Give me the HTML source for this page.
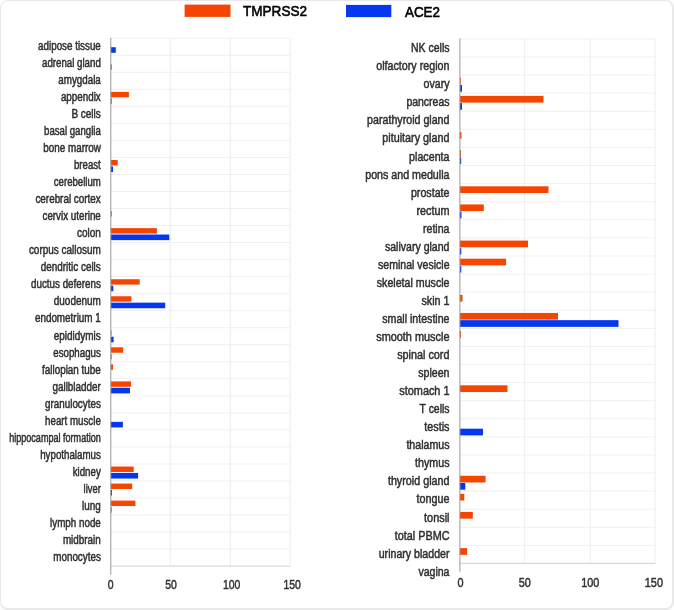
<!DOCTYPE html><html><head><meta charset="utf-8"><style>
html,body{margin:0;padding:0;background:#fff;}
body{width:674px;height:610px;overflow:hidden;position:relative;}
.box{position:absolute;left:0;top:0;width:671px;height:607px;border-style:solid;border-color:#e8e8e8;border-width:1px 2px 2px 1px;border-radius:8px;background:#fff;}
svg{position:absolute;left:0;top:0;filter:blur(0.4px);}
text{font-family:"Liberation Sans",sans-serif;}
</style></head><body><div class="box"></div>
<svg width="674" height="610" viewBox="0 0 674 610">
<rect x="110.80" y="37.70" width="180.00" height="1" fill="#f0f0f0"/>
<rect x="110.80" y="54.73" width="180.00" height="1" fill="#f0f0f0"/>
<rect x="110.80" y="71.76" width="180.00" height="1" fill="#f0f0f0"/>
<rect x="110.80" y="88.79" width="180.00" height="1" fill="#f0f0f0"/>
<rect x="110.80" y="105.82" width="180.00" height="1" fill="#f0f0f0"/>
<rect x="110.80" y="122.85" width="180.00" height="1" fill="#f0f0f0"/>
<rect x="110.80" y="139.88" width="180.00" height="1" fill="#f0f0f0"/>
<rect x="110.80" y="156.91" width="180.00" height="1" fill="#f0f0f0"/>
<rect x="110.80" y="173.94" width="180.00" height="1" fill="#f0f0f0"/>
<rect x="110.80" y="190.97" width="180.00" height="1" fill="#f0f0f0"/>
<rect x="110.80" y="208.00" width="180.00" height="1" fill="#f0f0f0"/>
<rect x="110.80" y="225.03" width="180.00" height="1" fill="#f0f0f0"/>
<rect x="110.80" y="242.06" width="180.00" height="1" fill="#f0f0f0"/>
<rect x="110.80" y="259.09" width="180.00" height="1" fill="#f0f0f0"/>
<rect x="110.80" y="276.12" width="180.00" height="1" fill="#f0f0f0"/>
<rect x="110.80" y="293.15" width="180.00" height="1" fill="#f0f0f0"/>
<rect x="110.80" y="310.18" width="180.00" height="1" fill="#f0f0f0"/>
<rect x="110.80" y="327.21" width="180.00" height="1" fill="#f0f0f0"/>
<rect x="110.80" y="344.24" width="180.00" height="1" fill="#f0f0f0"/>
<rect x="110.80" y="361.27" width="180.00" height="1" fill="#f0f0f0"/>
<rect x="110.80" y="378.30" width="180.00" height="1" fill="#f0f0f0"/>
<rect x="110.80" y="395.33" width="180.00" height="1" fill="#f0f0f0"/>
<rect x="110.80" y="412.36" width="180.00" height="1" fill="#f0f0f0"/>
<rect x="110.80" y="429.39" width="180.00" height="1" fill="#f0f0f0"/>
<rect x="110.80" y="446.42" width="180.00" height="1" fill="#f0f0f0"/>
<rect x="110.80" y="463.45" width="180.00" height="1" fill="#f0f0f0"/>
<rect x="110.80" y="480.48" width="180.00" height="1" fill="#f0f0f0"/>
<rect x="110.80" y="497.51" width="180.00" height="1" fill="#f0f0f0"/>
<rect x="110.80" y="514.54" width="180.00" height="1" fill="#f0f0f0"/>
<rect x="110.80" y="531.57" width="180.00" height="1" fill="#f0f0f0"/>
<rect x="110.80" y="548.60" width="180.00" height="1" fill="#f0f0f0"/>
<rect x="169.80" y="37.70" width="1.2" height="527.90" fill="#f0f0f0"/>
<rect x="229.80" y="37.70" width="1.2" height="527.90" fill="#f0f0f0"/>
<rect x="289.70" y="37.70" width="1.2" height="527.90" fill="#f0f0f0"/>
<rect x="110.80" y="565.60" width="180.00" height="1" fill="#cfcfcf"/>
<rect x="110.80" y="47.20" width="5.00" height="5.60" fill="#0537f0"/>
<rect x="110.80" y="64.23" width="0.80" height="5.60" fill="#0537f0"/>
<rect x="110.80" y="91.89" width="18.10" height="5.40" fill="#f64500"/>
<rect x="110.80" y="98.29" width="0.80" height="5.60" fill="#0537f0"/>
<rect x="110.80" y="160.01" width="6.90" height="5.40" fill="#f64500"/>
<rect x="110.80" y="166.41" width="2.20" height="5.60" fill="#0537f0"/>
<rect x="110.80" y="211.10" width="1.00" height="5.40" fill="#f64500"/>
<rect x="110.80" y="228.13" width="46.10" height="5.40" fill="#f64500"/>
<rect x="110.80" y="234.53" width="58.50" height="5.60" fill="#0537f0"/>
<rect x="110.80" y="279.22" width="28.90" height="5.40" fill="#f64500"/>
<rect x="110.80" y="285.62" width="2.50" height="5.60" fill="#0537f0"/>
<rect x="110.80" y="296.25" width="20.60" height="5.40" fill="#f64500"/>
<rect x="110.80" y="302.65" width="54.40" height="5.60" fill="#0537f0"/>
<rect x="110.80" y="330.31" width="0.70" height="5.40" fill="#f64500"/>
<rect x="110.80" y="336.71" width="2.80" height="5.60" fill="#0537f0"/>
<rect x="110.80" y="347.34" width="12.40" height="5.40" fill="#f64500"/>
<rect x="110.80" y="353.74" width="0.70" height="5.60" fill="#0537f0"/>
<rect x="110.80" y="364.37" width="2.20" height="5.40" fill="#f64500"/>
<rect x="110.80" y="381.40" width="20.20" height="5.40" fill="#f64500"/>
<rect x="110.80" y="387.80" width="19.20" height="5.60" fill="#0537f0"/>
<rect x="110.80" y="421.86" width="12.10" height="5.60" fill="#0537f0"/>
<rect x="110.80" y="466.55" width="22.90" height="5.40" fill="#f64500"/>
<rect x="110.80" y="472.95" width="27.30" height="5.60" fill="#0537f0"/>
<rect x="110.80" y="483.58" width="21.40" height="5.40" fill="#f64500"/>
<rect x="110.80" y="489.98" width="1.20" height="5.60" fill="#0537f0"/>
<rect x="110.80" y="500.61" width="24.60" height="5.40" fill="#f64500"/>
<rect x="110.80" y="507.01" width="0.70" height="5.60" fill="#0537f0"/>
<rect x="110.30" y="37.70" width="1" height="536.90" fill="#999"/>
<text x="100.80" y="50.00" font-size="12" fill="#303030" stroke="#303030" stroke-width="0.5" text-anchor="end" textLength="62.70" lengthAdjust="spacingAndGlyphs">adipose tissue</text>
<text x="100.80" y="67.03" font-size="12" fill="#303030" stroke="#303030" stroke-width="0.5" text-anchor="end" textLength="58.80" lengthAdjust="spacingAndGlyphs">adrenal gland</text>
<text x="100.80" y="84.06" font-size="12" fill="#303030" stroke="#303030" stroke-width="0.5" text-anchor="end" textLength="42.50" lengthAdjust="spacingAndGlyphs">amygdala</text>
<text x="100.80" y="101.09" font-size="12" fill="#303030" stroke="#303030" stroke-width="0.5" text-anchor="end" textLength="39.90" lengthAdjust="spacingAndGlyphs">appendix</text>
<text x="100.80" y="118.12" font-size="12" fill="#303030" stroke="#303030" stroke-width="0.5" text-anchor="end" textLength="29.40" lengthAdjust="spacingAndGlyphs">B cells</text>
<text x="100.80" y="135.15" font-size="12" fill="#303030" stroke="#303030" stroke-width="0.5" text-anchor="end" textLength="56.70" lengthAdjust="spacingAndGlyphs">basal ganglia</text>
<text x="100.80" y="152.18" font-size="12" fill="#303030" stroke="#303030" stroke-width="0.5" text-anchor="end" textLength="57.50" lengthAdjust="spacingAndGlyphs">bone marrow</text>
<text x="100.80" y="169.21" font-size="12" fill="#303030" stroke="#303030" stroke-width="0.5" text-anchor="end" textLength="26.80" lengthAdjust="spacingAndGlyphs">breast</text>
<text x="100.80" y="186.24" font-size="12" fill="#303030" stroke="#303030" stroke-width="0.5" text-anchor="end" textLength="47.00" lengthAdjust="spacingAndGlyphs">cerebellum</text>
<text x="100.80" y="203.27" font-size="12" fill="#303030" stroke="#303030" stroke-width="0.5" text-anchor="end" textLength="65.40" lengthAdjust="spacingAndGlyphs">cerebral cortex</text>
<text x="100.80" y="220.30" font-size="12" fill="#303030" stroke="#303030" stroke-width="0.5" text-anchor="end" textLength="58.30" lengthAdjust="spacingAndGlyphs">cervix uterine</text>
<text x="100.80" y="237.33" font-size="12" fill="#303030" stroke="#303030" stroke-width="0.5" text-anchor="end" textLength="23.90" lengthAdjust="spacingAndGlyphs">colon</text>
<text x="100.80" y="254.36" font-size="12" fill="#303030" stroke="#303030" stroke-width="0.5" text-anchor="end" textLength="71.90" lengthAdjust="spacingAndGlyphs">corpus callosum</text>
<text x="100.80" y="271.39" font-size="12" fill="#303030" stroke="#303030" stroke-width="0.5" text-anchor="end" textLength="60.10" lengthAdjust="spacingAndGlyphs">dendritic cells</text>
<text x="100.80" y="288.42" font-size="12" fill="#303030" stroke="#303030" stroke-width="0.5" text-anchor="end" textLength="69.80" lengthAdjust="spacingAndGlyphs">ductus deferens</text>
<text x="100.80" y="305.45" font-size="12" fill="#303030" stroke="#303030" stroke-width="0.5" text-anchor="end" textLength="47.00" lengthAdjust="spacingAndGlyphs">duodenum</text>
<text x="100.80" y="322.48" font-size="12" fill="#303030" stroke="#303030" stroke-width="0.5" text-anchor="end" textLength="65.90" lengthAdjust="spacingAndGlyphs">endometrium 1</text>
<text x="100.80" y="339.51" font-size="12" fill="#303030" stroke="#303030" stroke-width="0.5" text-anchor="end" textLength="47.00" lengthAdjust="spacingAndGlyphs">epididymis</text>
<text x="100.80" y="356.54" font-size="12" fill="#303030" stroke="#303030" stroke-width="0.5" text-anchor="end" textLength="47.50" lengthAdjust="spacingAndGlyphs">esophagus</text>
<text x="100.80" y="373.57" font-size="12" fill="#303030" stroke="#303030" stroke-width="0.5" text-anchor="end" textLength="58.80" lengthAdjust="spacingAndGlyphs">fallopian tube</text>
<text x="100.80" y="390.60" font-size="12" fill="#303030" stroke="#303030" stroke-width="0.5" text-anchor="end" textLength="48.30" lengthAdjust="spacingAndGlyphs">gallbladder</text>
<text x="100.80" y="407.63" font-size="12" fill="#303030" stroke="#303030" stroke-width="0.5" text-anchor="end" textLength="55.70" lengthAdjust="spacingAndGlyphs">granulocytes</text>
<text x="100.80" y="424.66" font-size="12" fill="#303030" stroke="#303030" stroke-width="0.5" text-anchor="end" textLength="55.70" lengthAdjust="spacingAndGlyphs">heart muscle</text>
<text x="100.80" y="441.69" font-size="12" fill="#303030" stroke="#303030" stroke-width="0.5" text-anchor="end" textLength="91.60" lengthAdjust="spacingAndGlyphs">hippocampal formation</text>
<text x="100.80" y="458.72" font-size="12" fill="#303030" stroke="#303030" stroke-width="0.5" text-anchor="end" textLength="60.60" lengthAdjust="spacingAndGlyphs">hypothalamus</text>
<text x="100.80" y="475.75" font-size="12" fill="#303030" stroke="#303030" stroke-width="0.5" text-anchor="end" textLength="28.10" lengthAdjust="spacingAndGlyphs">kidney</text>
<text x="100.80" y="492.78" font-size="12" fill="#303030" stroke="#303030" stroke-width="0.5" text-anchor="end" textLength="17.20" lengthAdjust="spacingAndGlyphs">liver</text>
<text x="100.80" y="509.81" font-size="12" fill="#303030" stroke="#303030" stroke-width="0.5" text-anchor="end" textLength="18.70" lengthAdjust="spacingAndGlyphs">lung</text>
<text x="100.80" y="526.84" font-size="12" fill="#303030" stroke="#303030" stroke-width="0.5" text-anchor="end" textLength="50.70" lengthAdjust="spacingAndGlyphs">lymph node</text>
<text x="100.80" y="543.87" font-size="12" fill="#303030" stroke="#303030" stroke-width="0.5" text-anchor="end" textLength="37.90" lengthAdjust="spacingAndGlyphs">midbrain</text>
<text x="100.80" y="560.90" font-size="12" fill="#303030" stroke="#303030" stroke-width="0.5" text-anchor="end" textLength="47.50" lengthAdjust="spacingAndGlyphs">monocytes</text>
<text x="110.70" y="589.10" font-size="12" fill="#303030" stroke="#303030" stroke-width="0.45" text-anchor="middle" textLength="5.80" lengthAdjust="spacingAndGlyphs">0</text>
<text x="171.00" y="589.10" font-size="12" fill="#303030" stroke="#303030" stroke-width="0.45" text-anchor="middle" textLength="11.61" lengthAdjust="spacingAndGlyphs">50</text>
<text x="231.70" y="589.10" font-size="12" fill="#303030" stroke="#303030" stroke-width="0.45" text-anchor="middle" textLength="17.41" lengthAdjust="spacingAndGlyphs">100</text>
<text x="292.10" y="589.10" font-size="12" fill="#303030" stroke="#303030" stroke-width="0.45" text-anchor="middle" textLength="17.41" lengthAdjust="spacingAndGlyphs">150</text>
<rect x="459.90" y="38.40" width="195.60" height="1" fill="#f0f0f0"/>
<rect x="459.90" y="56.49" width="195.60" height="1" fill="#f0f0f0"/>
<rect x="459.90" y="74.58" width="195.60" height="1" fill="#f0f0f0"/>
<rect x="459.90" y="92.67" width="195.60" height="1" fill="#f0f0f0"/>
<rect x="459.90" y="110.76" width="195.60" height="1" fill="#f0f0f0"/>
<rect x="459.90" y="128.85" width="195.60" height="1" fill="#f0f0f0"/>
<rect x="459.90" y="146.94" width="195.60" height="1" fill="#f0f0f0"/>
<rect x="459.90" y="165.03" width="195.60" height="1" fill="#f0f0f0"/>
<rect x="459.90" y="183.12" width="195.60" height="1" fill="#f0f0f0"/>
<rect x="459.90" y="201.21" width="195.60" height="1" fill="#f0f0f0"/>
<rect x="459.90" y="219.30" width="195.60" height="1" fill="#f0f0f0"/>
<rect x="459.90" y="237.39" width="195.60" height="1" fill="#f0f0f0"/>
<rect x="459.90" y="255.48" width="195.60" height="1" fill="#f0f0f0"/>
<rect x="459.90" y="273.57" width="195.60" height="1" fill="#f0f0f0"/>
<rect x="459.90" y="291.66" width="195.60" height="1" fill="#f0f0f0"/>
<rect x="459.90" y="309.75" width="195.60" height="1" fill="#f0f0f0"/>
<rect x="459.90" y="327.84" width="195.60" height="1" fill="#f0f0f0"/>
<rect x="459.90" y="345.93" width="195.60" height="1" fill="#f0f0f0"/>
<rect x="459.90" y="364.02" width="195.60" height="1" fill="#f0f0f0"/>
<rect x="459.90" y="382.11" width="195.60" height="1" fill="#f0f0f0"/>
<rect x="459.90" y="400.20" width="195.60" height="1" fill="#f0f0f0"/>
<rect x="459.90" y="418.29" width="195.60" height="1" fill="#f0f0f0"/>
<rect x="459.90" y="436.38" width="195.60" height="1" fill="#f0f0f0"/>
<rect x="459.90" y="454.47" width="195.60" height="1" fill="#f0f0f0"/>
<rect x="459.90" y="472.56" width="195.60" height="1" fill="#f0f0f0"/>
<rect x="459.90" y="490.65" width="195.60" height="1" fill="#f0f0f0"/>
<rect x="459.90" y="508.74" width="195.60" height="1" fill="#f0f0f0"/>
<rect x="459.90" y="526.83" width="195.60" height="1" fill="#f0f0f0"/>
<rect x="459.90" y="544.92" width="195.60" height="1" fill="#f0f0f0"/>
<rect x="523.90" y="38.40" width="1.2" height="524.40" fill="#f0f0f0"/>
<rect x="589.70" y="38.40" width="1.2" height="524.40" fill="#f0f0f0"/>
<rect x="654.40" y="38.40" width="1.2" height="524.40" fill="#f0f0f0"/>
<rect x="459.90" y="562.80" width="195.60" height="1" fill="#cfcfcf"/>
<rect x="459.90" y="77.78" width="0.90" height="6.70" fill="#f64500"/>
<rect x="459.90" y="84.98" width="2.10" height="6.70" fill="#0537f0"/>
<rect x="459.90" y="95.87" width="83.60" height="6.70" fill="#f64500"/>
<rect x="459.90" y="103.07" width="2.10" height="6.70" fill="#0537f0"/>
<rect x="459.90" y="132.05" width="1.60" height="6.70" fill="#f64500"/>
<rect x="459.90" y="150.14" width="1.10" height="6.70" fill="#f64500"/>
<rect x="459.90" y="157.34" width="1.30" height="6.70" fill="#0537f0"/>
<rect x="459.90" y="186.32" width="88.60" height="6.70" fill="#f64500"/>
<rect x="459.90" y="204.41" width="23.90" height="6.70" fill="#f64500"/>
<rect x="459.90" y="211.61" width="1.60" height="6.70" fill="#0537f0"/>
<rect x="459.90" y="240.59" width="68.10" height="6.70" fill="#f64500"/>
<rect x="459.90" y="247.79" width="1.40" height="6.70" fill="#0537f0"/>
<rect x="459.90" y="258.68" width="46.20" height="6.70" fill="#f64500"/>
<rect x="459.90" y="265.88" width="1.40" height="6.70" fill="#0537f0"/>
<rect x="459.90" y="294.86" width="2.60" height="6.70" fill="#f64500"/>
<rect x="459.90" y="312.95" width="98.10" height="6.70" fill="#f64500"/>
<rect x="459.90" y="320.15" width="158.60" height="6.70" fill="#0537f0"/>
<rect x="459.90" y="331.04" width="1.10" height="6.70" fill="#f64500"/>
<rect x="459.90" y="385.31" width="47.60" height="6.70" fill="#f64500"/>
<rect x="459.90" y="428.69" width="23.10" height="6.70" fill="#0537f0"/>
<rect x="459.90" y="475.76" width="25.70" height="6.70" fill="#f64500"/>
<rect x="459.90" y="482.96" width="5.40" height="6.70" fill="#0537f0"/>
<rect x="459.90" y="493.85" width="4.40" height="6.70" fill="#f64500"/>
<rect x="459.90" y="511.94" width="12.90" height="6.70" fill="#f64500"/>
<rect x="459.90" y="548.12" width="7.20" height="6.70" fill="#f64500"/>
<rect x="459.40" y="38.40" width="1" height="533.40" fill="#999"/>
<text x="449.50" y="52.20" font-size="12.5" fill="#303030" stroke="#303030" stroke-width="0.5" text-anchor="end" textLength="38.60" lengthAdjust="spacingAndGlyphs">NK cells</text>
<text x="449.50" y="70.25" font-size="12.5" fill="#303030" stroke="#303030" stroke-width="0.5" text-anchor="end" textLength="73.30" lengthAdjust="spacingAndGlyphs">olfactory region</text>
<text x="449.50" y="88.30" font-size="12.5" fill="#303030" stroke="#303030" stroke-width="0.5" text-anchor="end" textLength="26.00" lengthAdjust="spacingAndGlyphs">ovary</text>
<text x="449.50" y="106.35" font-size="12.5" fill="#303030" stroke="#303030" stroke-width="0.5" text-anchor="end" textLength="43.10" lengthAdjust="spacingAndGlyphs">pancreas</text>
<text x="449.50" y="124.40" font-size="12.5" fill="#303030" stroke="#303030" stroke-width="0.5" text-anchor="end" textLength="82.40" lengthAdjust="spacingAndGlyphs">parathyroid gland</text>
<text x="449.50" y="142.45" font-size="12.5" fill="#303030" stroke="#303030" stroke-width="0.5" text-anchor="end" textLength="67.20" lengthAdjust="spacingAndGlyphs">pituitary gland</text>
<text x="449.50" y="160.50" font-size="12.5" fill="#303030" stroke="#303030" stroke-width="0.5" text-anchor="end" textLength="40.40" lengthAdjust="spacingAndGlyphs">placenta</text>
<text x="449.50" y="178.55" font-size="12.5" fill="#303030" stroke="#303030" stroke-width="0.5" text-anchor="end" textLength="84.30" lengthAdjust="spacingAndGlyphs">pons and medulla</text>
<text x="449.50" y="196.60" font-size="12.5" fill="#303030" stroke="#303030" stroke-width="0.5" text-anchor="end" textLength="38.60" lengthAdjust="spacingAndGlyphs">prostate</text>
<text x="449.50" y="214.65" font-size="12.5" fill="#303030" stroke="#303030" stroke-width="0.5" text-anchor="end" textLength="33.10" lengthAdjust="spacingAndGlyphs">rectum</text>
<text x="449.50" y="232.70" font-size="12.5" fill="#303030" stroke="#303030" stroke-width="0.5" text-anchor="end" textLength="26.50" lengthAdjust="spacingAndGlyphs">retina</text>
<text x="449.50" y="250.75" font-size="12.5" fill="#303030" stroke="#303030" stroke-width="0.5" text-anchor="end" textLength="64.60" lengthAdjust="spacingAndGlyphs">salivary gland</text>
<text x="449.50" y="268.80" font-size="12.5" fill="#303030" stroke="#303030" stroke-width="0.5" text-anchor="end" textLength="71.40" lengthAdjust="spacingAndGlyphs">seminal vesicle</text>
<text x="449.50" y="286.85" font-size="12.5" fill="#303030" stroke="#303030" stroke-width="0.5" text-anchor="end" textLength="72.70" lengthAdjust="spacingAndGlyphs">skeletal muscle</text>
<text x="449.50" y="304.90" font-size="12.5" fill="#303030" stroke="#303030" stroke-width="0.5" text-anchor="end" textLength="28.10" lengthAdjust="spacingAndGlyphs">skin 1</text>
<text x="449.50" y="322.95" font-size="12.5" fill="#303030" stroke="#303030" stroke-width="0.5" text-anchor="end" textLength="67.20" lengthAdjust="spacingAndGlyphs">small intestine</text>
<text x="449.50" y="341.00" font-size="12.5" fill="#303030" stroke="#303030" stroke-width="0.5" text-anchor="end" textLength="73.30" lengthAdjust="spacingAndGlyphs">smooth muscle</text>
<text x="449.50" y="359.05" font-size="12.5" fill="#303030" stroke="#303030" stroke-width="0.5" text-anchor="end" textLength="52.30" lengthAdjust="spacingAndGlyphs">spinal cord</text>
<text x="449.50" y="377.10" font-size="12.5" fill="#303030" stroke="#303030" stroke-width="0.5" text-anchor="end" textLength="31.30" lengthAdjust="spacingAndGlyphs">spleen</text>
<text x="449.50" y="395.15" font-size="12.5" fill="#303030" stroke="#303030" stroke-width="0.5" text-anchor="end" textLength="50.20" lengthAdjust="spacingAndGlyphs">stomach 1</text>
<text x="449.50" y="413.20" font-size="12.5" fill="#303030" stroke="#303030" stroke-width="0.5" text-anchor="end" textLength="29.90" lengthAdjust="spacingAndGlyphs">T cells</text>
<text x="449.50" y="431.25" font-size="12.5" fill="#303030" stroke="#303030" stroke-width="0.5" text-anchor="end" textLength="25.20" lengthAdjust="spacingAndGlyphs">testis</text>
<text x="449.50" y="449.30" font-size="12.5" fill="#303030" stroke="#303030" stroke-width="0.5" text-anchor="end" textLength="43.10" lengthAdjust="spacingAndGlyphs">thalamus</text>
<text x="449.50" y="467.35" font-size="12.5" fill="#303030" stroke="#303030" stroke-width="0.5" text-anchor="end" textLength="34.40" lengthAdjust="spacingAndGlyphs">thymus</text>
<text x="449.50" y="485.40" font-size="12.5" fill="#303030" stroke="#303030" stroke-width="0.5" text-anchor="end" textLength="61.60" lengthAdjust="spacingAndGlyphs">thyroid gland</text>
<text x="449.50" y="503.45" font-size="12.5" fill="#303030" stroke="#303030" stroke-width="0.5" text-anchor="end" textLength="32.90" lengthAdjust="spacingAndGlyphs">tongue</text>
<text x="449.50" y="521.50" font-size="12.5" fill="#303030" stroke="#303030" stroke-width="0.5" text-anchor="end" textLength="25.40" lengthAdjust="spacingAndGlyphs">tonsil</text>
<text x="449.50" y="539.55" font-size="12.5" fill="#303030" stroke="#303030" stroke-width="0.5" text-anchor="end" textLength="54.70" lengthAdjust="spacingAndGlyphs">total PBMC</text>
<text x="449.50" y="557.60" font-size="12.5" fill="#303030" stroke="#303030" stroke-width="0.5" text-anchor="end" textLength="70.80" lengthAdjust="spacingAndGlyphs">urinary bladder</text>
<text x="449.50" y="575.65" font-size="12.5" fill="#303030" stroke="#303030" stroke-width="0.5" text-anchor="end" textLength="31.10" lengthAdjust="spacingAndGlyphs">vagina</text>
<text x="460.50" y="586.90" font-size="12.5" fill="#303030" stroke="#303030" stroke-width="0.45" text-anchor="middle" textLength="6.05" lengthAdjust="spacingAndGlyphs">0</text>
<text x="524.70" y="586.90" font-size="12.5" fill="#303030" stroke="#303030" stroke-width="0.45" text-anchor="middle" textLength="12.09" lengthAdjust="spacingAndGlyphs">50</text>
<text x="590.30" y="586.90" font-size="12.5" fill="#303030" stroke="#303030" stroke-width="0.45" text-anchor="middle" textLength="18.14" lengthAdjust="spacingAndGlyphs">100</text>
<text x="653.90" y="586.90" font-size="12.5" fill="#303030" stroke="#303030" stroke-width="0.45" text-anchor="middle" textLength="18.14" lengthAdjust="spacingAndGlyphs">150</text>
<rect x="184.6" y="4.6" width="45.9" height="12.3" fill="#f64500"/>
<rect x="346" y="4.9" width="45.3" height="12.2" fill="#0537f0"/>
<text x="243" y="16.3" font-size="15" fill="#000" stroke="#000" stroke-width="0.6" textLength="64" lengthAdjust="spacingAndGlyphs">TMPRSS2</text>
<text x="405" y="17.2" font-size="15" fill="#000" stroke="#000" stroke-width="0.6" textLength="35" lengthAdjust="spacingAndGlyphs">ACE2</text>
</svg></body></html>
